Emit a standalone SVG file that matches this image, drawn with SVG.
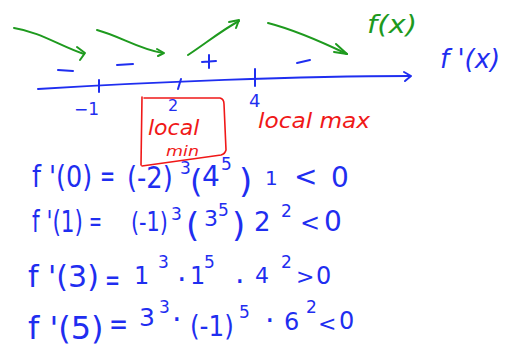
<svg xmlns="http://www.w3.org/2000/svg" width="509" height="349" viewBox="0 0 509 349">
<style>
.g{fill:none;stroke:#1e9a1e;stroke-width:2;stroke-linecap:round;stroke-linejoin:round}
.bl{fill:none;stroke:#1f2ef0;stroke-width:2;stroke-linecap:round;stroke-linejoin:round}
.rl{fill:none;stroke:#f01818;stroke-width:1.6;stroke-linecap:round;stroke-linejoin:round}
text{font-family:"DejaVu Sans","Liberation Sans",sans-serif}
.bt{fill:#1f2ef0}
.gt{fill:#1e9a1e;font-style:italic}
.rt{fill:#f01818;font-style:italic}
.sup{font-size:17px}
</style>
<rect width="509" height="349" fill="#fff"/>
<g id="green-arrows">
<path class="g" d="M14,28 C40,32 60,46 84,54"/><path class="g" d="M77,47 L85,53 L80,60"/>
<path class="g" d="M97,30 C120,36 140,50 163,53"/><path class="g" d="M157,49 L164,53 L158,56"/>
<path class="g" d="M188,55 C205,44 222,30 239,21"/><path class="g" d="M229,22 L239,20 L236,28"/>
<path class="g" d="M268,23 C295,30 322,42 347,54"/><path class="g" d="M336,44 L347,54 L334,52"/>
</g>
<text class="gt" transform="translate(367,33) scale(1.16,1)" font-size="25">f(x)</text>
<g id="axis">
<path class="bl" d="M38,89 C150,82 300,76 410,76"/>
<path class="bl" d="M404,72 L411,76 L405,81"/>
<path class="bl" d="M99,80 L99,92"/>
<path class="bl" d="M181,79 L178,89"/>
<path class="bl" d="M255,69 L255,86"/>
<path class="bl" d="M58,70 L73,71"/>
<path class="bl" d="M117,65 L133,64"/>
<path class="bl" d="M202,62 L216,61 M209,55 L209,68"/>
<path class="bl" d="M297,63 L310,60"/>
</g>
<text class="bt" x="74" y="115" font-size="17">−1</text>
<text class="bt" x="168" y="111" font-size="16">2</text>
<text class="bt" x="249" y="107" font-size="18">4</text>
<text class="bt" x="440" y="68" font-size="26" font-style="italic">f '(x)</text>
<g id="local-min">
<path class="rl" d="M142,97 L141,165 M144,98 L220,98 Q224,99 224,104 L226,150 Q225,154 221,155 L142,166"/>
<text class="rt" transform="translate(148,135) scale(1.05,1)" font-size="21">local</text>
<text class="rt" transform="translate(166,156) scale(1.25,1)" font-size="14">min</text>
</g>
<text class="rt" transform="translate(258,128) scale(1.056,1)" font-size="22">local max</text>
<g id="eq1" class="bt">
<text transform="translate(32,187) scale(0.85,1)" font-size="30">f '(0)</text>
<text transform="translate(100,186) scale(0.6,1)" font-size="30">=</text>
<text transform="translate(127,188) scale(0.86,1)" font-size="30">(-2)</text>
<text class="sup" x="180" y="174">3</text>
<text x="190" y="192" font-size="32">(</text>
<text x="202" y="186" font-size="28">4</text>
<text class="sup" x="221" y="170">5</text>
<text x="239" y="193" font-size="34">)</text>
<text x="265" y="185" font-size="20">1</text>
<text x="294" y="186" font-size="28">&lt;</text>
<text x="331" y="187" font-size="28">0</text>
</g>
<g id="eq2" class="bt">
<text transform="translate(32,232) scale(0.72,1)" font-size="30">f '(1)</text>
<text transform="translate(89,231) scale(0.55,1)" font-size="28">=</text>
<text transform="translate(131,231) scale(0.77,1)" font-size="27">(-1)</text>
<text class="sup" x="171" y="220">3</text>
<text x="186" y="237" font-size="34">(</text>
<text x="204" y="226" font-size="22">3</text>
<text class="sup" x="218" y="216">5</text>
<text x="232" y="237" font-size="34">)</text>
<text x="254" y="231" font-size="26">2</text>
<text class="sup" x="281" y="217">2</text>
<text x="300" y="231" font-size="24">&lt;</text>
<text x="324" y="231" font-size="28">0</text>
</g>
<g id="eq3" class="bt">
<text x="28" y="287" font-size="30">f '(3)</text>
<text transform="translate(105,290) scale(0.6,1)" font-size="30">=</text>
<text x="134" y="284" font-size="24">1</text>
<text class="sup" x="158" y="268">3</text>
<text x="177" y="290" font-size="30">·</text>
<text x="190" y="284" font-size="24">1</text>
<text class="sup" x="204" y="268">5</text>
<text x="235" y="292" font-size="30">·</text>
<text x="255" y="283" font-size="22">4</text>
<text class="sup" x="281" y="268">2</text>
<text x="296" y="284" font-size="22">&gt;</text>
<text x="316" y="284" font-size="24">0</text>
</g>
<g id="eq4" class="bt">
<text x="28" y="339" font-size="32">f '(5)</text>
<text transform="translate(109,334) scale(0.76,1)" font-size="30">=</text>
<text x="139" y="326" font-size="25">3</text>
<text class="sup" x="159" y="313">3</text>
<text x="172" y="330" font-size="30">·</text>
<text transform="translate(190,336) scale(0.85,1)" font-size="29">(-1)</text>
<text class="sup" x="239" y="318">5</text>
<text x="265" y="331" font-size="30">·</text>
<text x="284" y="330" font-size="24">6</text>
<text class="sup" x="306" y="313">2</text>
<text x="318" y="331" font-size="22">&lt;</text>
<text x="339" y="329" font-size="24">0</text>
</g>
</svg>
